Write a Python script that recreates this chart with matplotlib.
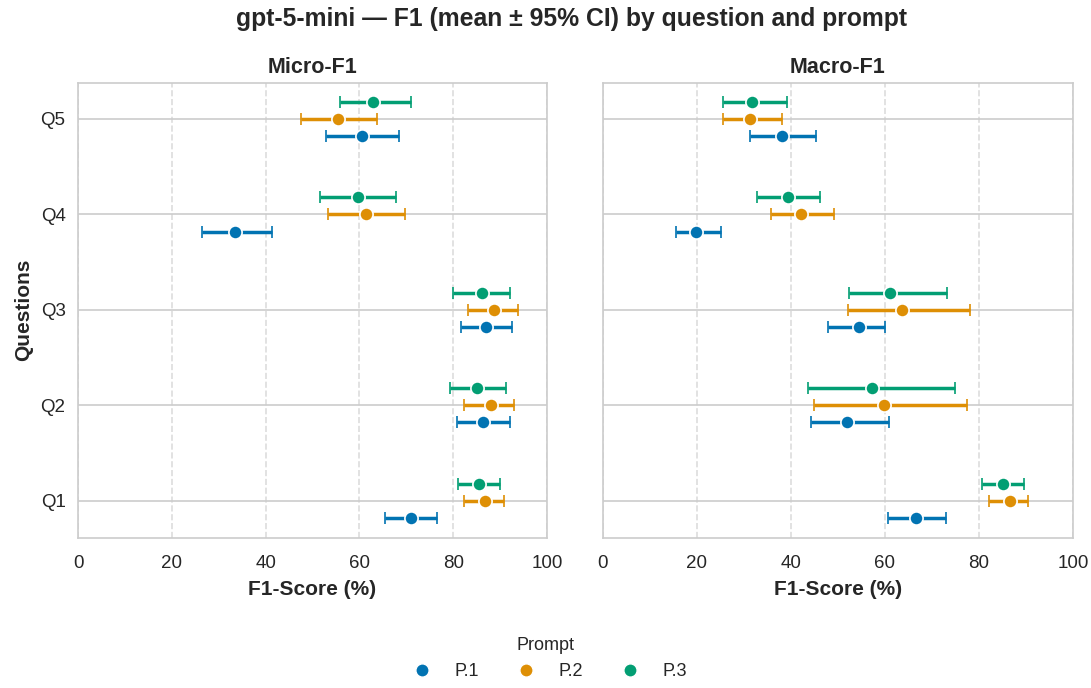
import matplotlib
matplotlib.use("Agg")
import matplotlib.pyplot as plt
import seaborn as sns
import numpy as np

sns.set_theme(style="whitegrid")
plt.rcParams['font.family'] = ['Liberation Sans', 'DejaVu Sans']

questions = ['Q1', 'Q2', 'Q3', 'Q4', 'Q5']
prompts = ['P.1', 'P.2', 'P.3']
colors = sns.color_palette("colorblind")[:3]

# Micro-F1: mean, lower, upper per prompt (Q1..Q5)
micro_mean = {
    'P.1': [70.9, 86.4, 87.0, 33.5, 60.6],
    'P.2': [86.8, 88.1, 88.6, 61.5, 55.5],
    'P.3': [85.4, 85.1, 86.1, 59.6, 63.0],
}
micro_lo = {
    'P.1': [65.4, 80.9, 81.6, 26.5, 52.8],
    'P.2': [82.3, 82.3, 83.1, 53.4, 47.5],
    'P.3': [81.0, 79.3, 80.0, 51.6, 55.9],
}
micro_hi = {
    'P.1': [76.6, 92.0, 92.6, 41.4, 68.4],
    'P.2': [90.9, 93.0, 93.8, 69.7, 63.8],
    'P.3': [90.0, 91.2, 92.0, 67.7, 70.9],
}

# Macro-F1
macro_mean = {
    'P.1': [66.6, 51.9, 54.5, 19.8, 38.1],
    'P.2': [86.5, 59.8, 63.6, 42.1, 31.2],
    'P.3': [85.1, 57.2, 61.0, 39.4, 31.8],
}
macro_lo = {
    'P.1': [60.7, 44.2, 47.9, 15.5, 31.2],
    'P.2': [82.1, 45.0, 52.1, 35.8, 25.5],
    'P.3': [80.6, 43.6, 52.4, 32.8, 25.5],
}
macro_hi = {
    'P.1': [73.0, 60.9, 60.1, 25.1, 45.4],
    'P.2': [90.4, 77.4, 78.1, 49.2, 38.0],
    'P.3': [89.5, 74.9, 73.1, 46.1, 39.2],
}

fig = plt.figure(figsize=(10.91, 6.88), dpi=100)
ax1 = fig.add_axes([0.0715, 0.218, 0.4299, 0.662])
ax2 = fig.add_axes([0.5527, 0.218, 0.4308, 0.662], sharey=ax1)

offsets = [-0.18, 0.0, 0.18]
ypos = np.arange(len(questions))

panels = [(ax1, 'Micro-F1', micro_mean, micro_lo, micro_hi),
          (ax2, 'Macro-F1', macro_mean, macro_lo, macro_hi)]

for ax, title, mean, lo, hi in panels:
    for i, p in enumerate(prompts):
        m = np.array(mean[p])
        err = np.vstack([m - np.array(lo[p]), np.array(hi[p]) - m])
        ax.errorbar(m, ypos + offsets[i], xerr=err, fmt='o', color=colors[i],
                    ecolor=colors[i], elinewidth=2.5, capsize=4.5, capthick=2.2,
                    markersize=9.5, markeredgecolor='white', markeredgewidth=1.2,
                    label=p, zorder=3)
    ax.set_xlim(0, 100)
    ax.set_xticks([0, 20, 40, 60, 80, 100])
    ax.set_title(title, fontsize=15.5, fontweight='bold', pad=7)
    ax.set_xlabel('F1-Score (%)', fontsize=15, fontweight='bold', labelpad=6)
    ax.tick_params(axis='x', labelsize=13.5, pad=6)
    ax.tick_params(axis='y', labelsize=13.5, pad=3)
    ax.grid(axis='x', linestyle='--', color='#dddddd', linewidth=1.2)
    ax.grid(axis='y', linestyle='-', color='#cccccc', linewidth=1.2)
    for s in ax.spines.values():
        s.set_color('#cccccc')
        s.set_linewidth(1.2)

ax1.set_yticks(ypos)
ax1.set_yticklabels(questions)
ax1.set_ylim(-0.39, 4.38)
ax1.set_ylabel('Questions', fontsize=15, fontweight='bold', labelpad=5)
ax2.tick_params(axis='y', labelleft=False)

fig.suptitle('gpt-5-mini \u2014 F1 (mean \u00b1 95% CI) by question and prompt',
             fontsize=17.8, fontweight='bold', x=0.524, y=0.99)

handles = [plt.Line2D([], [], marker='o', linestyle='', color=colors[i],
                      markersize=9.5, markeredgecolor='white') for i in range(3)]
leg = fig.legend(handles, prompts, title='Prompt', loc='lower center', ncol=3,
                 frameon=False, fontsize=13, title_fontsize=13,
                 bbox_to_anchor=(0.5, -0.012), columnspacing=1.6)

fig.savefig('out.png', dpi=100)
